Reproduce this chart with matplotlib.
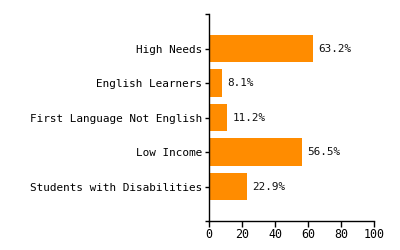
import matplotlib
matplotlib.use("Agg")
import matplotlib.pyplot as plt
from matplotlib.ticker import FixedLocator, NullFormatter

categories = ["High Needs", "English Learners", "First Language Not English",
              "Low Income", "Students with Disabilities"]
values = [63.2, 8.1, 11.2, 56.5, 22.9]
xticks = [0, 20, 40, 60, 80, 100]

plt.rcParams['font.family'] = ['DejaVu Sans Mono']
fs = 7.9

fig = plt.figure(figsize=(4, 2.5), dpi=100)
ax = fig.add_axes([209/400, 1-221/250, (374-209)/400, (221-14)/250])
pos = list(range(len(categories)))
ax.barh(pos, values, height=0.8, color='#FF8C00')
for p, v in zip(pos, values):
    ax.text(v + 3, p, f"{v}%", va='center', ha='left', fontsize=fs, color='#111111')
ax.set_ylim(5, -1)
ax.set_xlim(0, 100)
ax.set_yticks(pos)
ax.set_yticklabels(categories, fontsize=fs)
ax.yaxis.set_minor_locator(FixedLocator([-1, 5]))
ax.yaxis.set_minor_formatter(NullFormatter())
ax.set_xticks(xticks)
ax.set_xticklabels([str(t) for t in xticks], fontsize=fs + 0.5)
for s in ['top', 'right']:
    ax.spines[s].set_visible(False)
for s in ['left', 'bottom']:
    ax.spines[s].set_linewidth(1)
    ax.spines[s].set_color('black')
ax.tick_params(axis='y', which='both', length=3, width=1, pad=2, colors='black')
ax.tick_params(axis='x', length=4, width=1, pad=1, colors='black')
fig.savefig("out.png", dpi=100)
